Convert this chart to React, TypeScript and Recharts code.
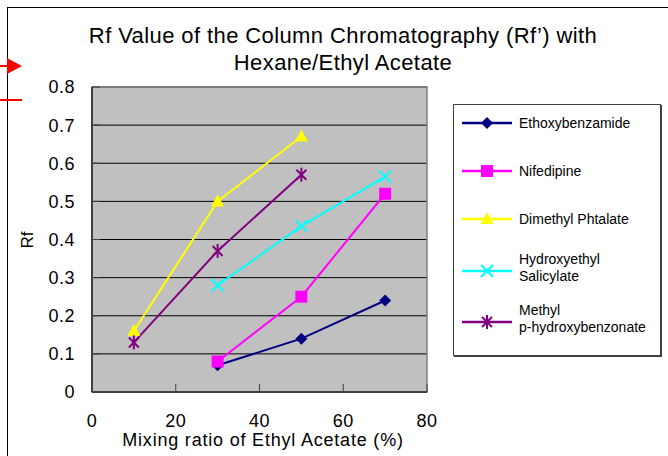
import React from 'react';
import { LineChart, Line, XAxis, YAxis, CartesianGrid, ReferenceArea } from 'recharts';

// Mixing ratio of ethyl acetate (%) and Rf values per compound
const ethoxyX = [30, 50, 70];
const ethoxyY = [0.07, 0.14, 0.24];
const nifedipineX = [30, 50, 70];
const nifedipineY = [0.08, 0.25, 0.52];
const dimethylX = [10, 30, 50];
const dimethylY = [0.16, 0.5, 0.67];
const hydroxyX = [30, 50, 70];
const hydroxyY = [0.28, 0.435, 0.565];
const methylX = [10, 30, 50];
const methylY = [0.13, 0.37, 0.57];

const xTicks = [0, 20, 40, 60, 80];
const yTicks = [0, 0.1, 0.2, 0.3, 0.4, 0.5, 0.6, 0.7, 0.8];

const titleLines = ['Rf Value of the Column Chromatography (Rf\u2019) with', 'Hexane/Ethyl Acetate'];
const xLabel = 'Mixing ratio of Ethyl Acetate (%)';
const yLabel = 'Rf';

const FONT = '"Liberation Sans", Arial, sans-serif';

type Shape = 'diamond' | 'square' | 'triangle' | 'x' | 'star';

const Marker = ({ cx, cy, shape, color }: { cx: number; cy: number; shape: Shape; color: string }) => {
  if (cx == null || cy == null) return null;
  switch (shape) {
    case 'diamond':
      return <polygon points={`${cx},${cy - 6} ${cx + 6},${cy} ${cx},${cy + 6} ${cx - 6},${cy}`} fill={color} />;
    case 'square':
      return <rect x={cx - 6} y={cy - 6} width={12} height={12} fill={color} />;
    case 'triangle':
      return <polygon points={`${cx},${cy - 7} ${cx + 6.5},${cy + 5} ${cx - 6.5},${cy + 5}`} fill={color} />;
    case 'x':
      return (
        <g stroke={color} strokeWidth={2}>
          <line x1={cx - 6} y1={cy - 6} x2={cx + 6} y2={cy + 6} />
          <line x1={cx - 6} y1={cy + 6} x2={cx + 6} y2={cy - 6} />
        </g>
      );
    case 'star':
      return (
        <g stroke={color} strokeWidth={2}>
          <line x1={cx - 5} y1={cy - 5} x2={cx + 5} y2={cy + 5} />
          <line x1={cx - 5} y1={cy + 5} x2={cx + 5} y2={cy - 5} />
          <line x1={cx} y1={cy - 7} x2={cx} y2={cy + 7} />
        </g>
      );
  }
  return null;
};

const build = (xs: number[], ys: number[]) => xs.map((x, i) => ({ x, y: ys[i] }));

const series: { name: string[]; color: string; shape: Shape; data: { x: number; y: number }[] }[] = [
  { name: ['Ethoxybenzamide'], color: '#000080', shape: 'diamond', data: build(ethoxyX, ethoxyY) },
  { name: ['Nifedipine'], color: '#FF00FF', shape: 'square', data: build(nifedipineX, nifedipineY) },
  { name: ['Dimethyl Phtalate'], color: '#FFFF00', shape: 'triangle', data: build(dimethylX, dimethylY) },
  { name: ['Hydroxyethyl', 'Salicylate'], color: '#00FFFF', shape: 'x', data: build(hydroxyX, hydroxyY) },
  { name: ['Methyl', 'p-hydroxybenzonate'], color: '#800080', shape: 'star', data: build(methylX, methylY) },
];

const legendRowCenters = [17.5, 66, 114, 166, 217];

const tickStyle = { fill: '#000', fontSize: 18, fontFamily: FONT, letterSpacing: 0.5 };

export default function App() {
  return (
    <div
      style={{
        position: 'absolute',
        left: 0,
        top: 0,
        width: 668,
        height: 456,
        background: '#fff',
        overflow: 'hidden',
        fontFamily: FONT,
      }}
    >
      {/* outer frame */}
      <div style={{ position: 'absolute', left: 7, top: 7, width: 700, height: 500, borderTop: '1.5px solid #000', borderLeft: '1.5px solid #000' }} />
      {/* red annotation marks */}
      <svg width={30} height={110} style={{ position: 'absolute', left: 0, top: 0 }}>
        <line x1={0} y1={66} x2={10} y2={66} stroke="#FF0000" strokeWidth={2} />
        <polygon points="7,58 22,66 7,74" fill="#FF0000" />
        <line x1={0} y1={100} x2={22} y2={100} stroke="#FF0000" strokeWidth={2} />
      </svg>

      <div
        style={{
          position: 'absolute',
          left: 43,
          top: 22,
          width: 600,
          textAlign: 'center',
          fontSize: 22,
          letterSpacing: 0.4,
          lineHeight: '27px',
          whiteSpace: 'nowrap',
          color: '#000',
        }}
      >
        {titleLines.map((t) => (
          <div key={t}>{t}</div>
        ))}
      </div>

      <div style={{ position: 'absolute', left: 0, top: 0 }}>
        <LineChart width={668} height={456} margin={{ top: 87, right: 241, bottom: 0, left: 0 }}>
          <CartesianGrid vertical={false} stroke="#000" strokeWidth={1} fill="#C0C0C0" fillOpacity={1} />
          <ReferenceArea x1={0} x2={80} y1={0} y2={0.8} fill="none" stroke="#808080" strokeWidth={1.5} ifOverflow="visible" />
          <XAxis
            type="number"
            dataKey="x"
            domain={[0, 80]}
            ticks={xTicks}
            height={64}
            tickSize={-8}
            tickMargin={30}
            axisLine={{ stroke: '#404040', strokeWidth: 2 }}
            tickLine={{ stroke: '#404040', strokeWidth: 1 }}
            tick={tickStyle}
            allowDecimals={false}
          />
          <YAxis
            type="number"
            dataKey="y"
            domain={[0, 0.8]}
            ticks={yTicks}
            width={92}
            tickSize={-8}
            tickMargin={25}
            axisLine={{ stroke: '#404040', strokeWidth: 2 }}
            tickLine={{ stroke: '#404040', strokeWidth: 1 }}
            tick={tickStyle}
            tickFormatter={(v: number) => (v === 0 ? '0' : v.toFixed(1))}
          />
          {series.map((s) => (
            <Line
              key={s.name.join(' ')}
              data={s.data}
              dataKey="y"
              type="linear"
              stroke={s.color}
              strokeWidth={2}
              isAnimationActive={false}
              dot={(p: any) => <Marker key={`${s.shape}-${p.index}`} cx={p.cx} cy={p.cy} shape={s.shape} color={s.color} />}
              activeDot={false}
            />
          ))}
        </LineChart>
      </div>

      {/* axis titles */}
      <div style={{ position: 'absolute', left: 63, top: 432, width: 400, textAlign: 'center', fontSize: 18, letterSpacing: 0.8, lineHeight: '16px', whiteSpace: 'nowrap' }}>
        {xLabel}
      </div>
      <div
        style={{
          position: 'absolute',
          left: 28,
          top: 240,
          transform: 'translate(-50%, -50%) rotate(-90deg)',
          fontSize: 17,
          lineHeight: '18px',
          whiteSpace: 'nowrap',
        }}
      >
        {yLabel}
      </div>

      {/* legend */}
      <div
        style={{
          position: 'absolute',
          left: 453,
          top: 104,
          width: 208,
          height: 252,
          border: '1px solid #404040',
          boxShadow: '1px 1px 0 #404040',
          background: '#fff',
          boxSizing: 'border-box',
        }}
      >
        {series.map((s, i) => (
          <div key={s.name.join(' ')} style={{ position: 'absolute', left: 0, top: legendRowCenters[i] - 20, height: 40, width: 208 }}>
            <svg width={56} height={40} style={{ position: 'absolute', left: 8, top: 0 }}>
              <line x1={0} y1={20} x2={50} y2={20} stroke={s.color} strokeWidth={2.5} />
              <Marker cx={25} cy={20} shape={s.shape} color={s.color} />
            </svg>
            <div
              style={{
                position: 'absolute',
                left: 65,
                top: s.name.length > 1 ? 20 - 15 - 5 : 20 - 9,
                fontSize: 14,
                lineHeight: s.name.length > 1 ? '17px' : '18px',
                whiteSpace: 'nowrap',
              }}
            >
              {s.name.map((n) => (
                <div key={n}>{n}</div>
              ))}
            </div>
          </div>
        ))}
      </div>
    </div>
  );
}
